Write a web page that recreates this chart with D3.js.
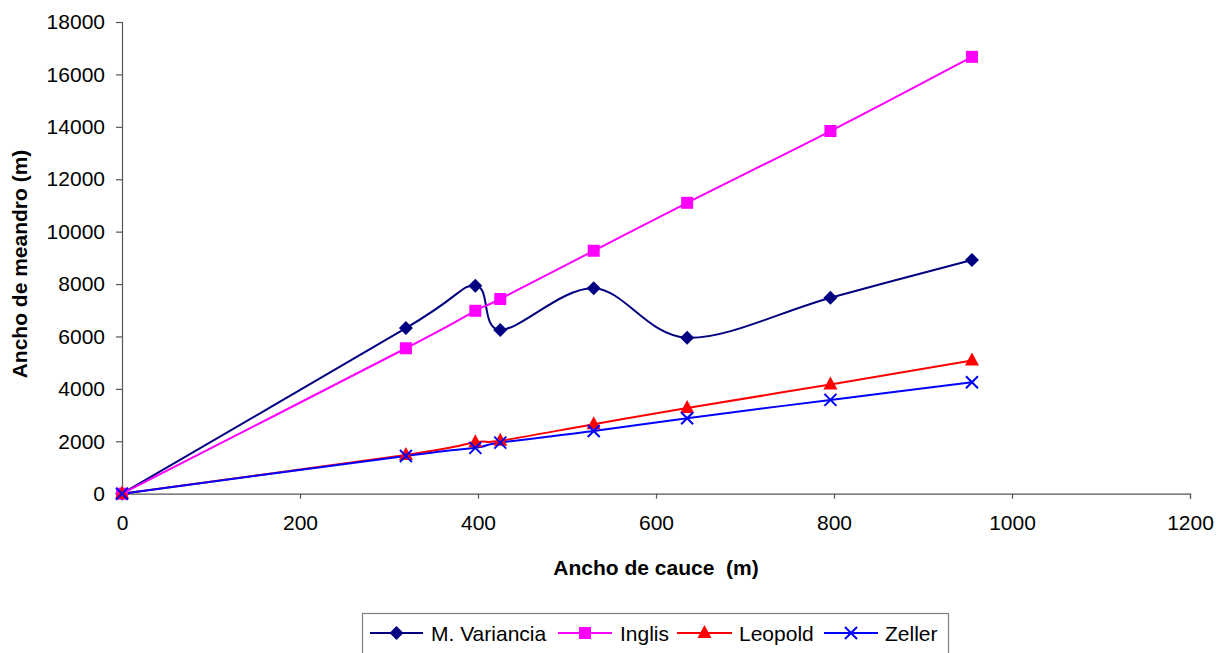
<!DOCTYPE html>
<html>
<head>
<meta charset="utf-8">
<script src="https://cdn.jsdelivr.net/npm/d3@7"></script>
<style>
  html, body { margin: 0; padding: 0; background: #fff; }
  svg text { font-family: Arial, "Liberation Sans", sans-serif; fill: #000; }
</style>
</head>
<body>
<svg id="chart" width="1228" height="653"></svg>
<script>
// Channel width (m) at each computed station
const anchoCauce = [0, 319, 397, 425, 530, 635, 796, 955];

// Meander width (m) per method
const mVariancia = [0, 6320, 7940, 6250, 7840, 5950, 7480, 8920];
const inglis     = [0, 5550, 6980, 7430, 9270, 11100, 13840, 16670];
const leopold    = [0, 1480, 1960, 2020, 2650, 3270, 4170, 5080];
const zeller     = [0, 1440, 1750, 1950, 2390, 2880, 3580, 4250];

const xTicks = [0, 200, 400, 600, 800, 1000, 1200];
const yTicks = [0, 2000, 4000, 6000, 8000, 10000, 12000, 14000, 16000, 18000];

const seriesNames = ["M. Variancia", "Inglis", "Leopold", "Zeller"];
const seriesValues = [mVariancia, inglis, leopold, zeller];
const seriesColors = ["#000080", "#FF00FF", "#FF0000", "#0000FF"];
const seriesMarkers = ["diamond", "square", "triangle", "cross"];

const svg = d3.select("#chart");
const plot = { left: 122, right: 1190, top: 22, bottom: 493.7 };

const x = d3.scaleLinear().domain([0, 1200]).range([plot.left, plot.right]);
const y = d3.scaleLinear().domain([0, 18000]).range([plot.bottom, plot.top]);

const axisColor = "#555";

// Y axis
const yAxis = svg.append("g")
  .attr("transform", `translate(${plot.left},0)`)
  .call(d3.axisLeft(y).tickValues(yTicks).tickSize(6).tickPadding(11).tickFormat(d3.format("d")));
// X axis
const xAxis = svg.append("g")
  .attr("transform", `translate(0,${plot.bottom})`)
  .call(d3.axisBottom(x).tickValues(xTicks).tickSize(5).tickPadding(16).tickFormat(d3.format("d")));

[yAxis, xAxis].forEach(g => {
  g.select(".domain").attr("stroke", axisColor).attr("stroke-width", 1.2);
  g.selectAll(".tick line").attr("stroke", axisColor).attr("stroke-width", 1.2);
  g.selectAll(".tick text").style("font-size", "21px").attr("fill", "#000")
    .style("font-family", "Arial, 'Liberation Sans', sans-serif");
});

// Axis titles
svg.append("text")
  .attr("x", 656).attr("y", 575)
  .attr("text-anchor", "middle")
  .style("font-size", "21px").style("font-weight", "bold")
  .style("white-space", "pre")
  .text("Ancho de cauce  (m)");

svg.append("text")
  .attr("transform", "translate(27,264) rotate(-90)")
  .attr("text-anchor", "middle")
  .style("font-size", "21px").style("font-weight", "bold")
  .text("Ancho de meandro (m)");

// Marker drawing
function drawMarker(g, type, color, cx, cy) {
  if (type === "diamond") {
    g.append("path")
      .attr("d", `M${cx},${cy - 7}L${cx + 7},${cy}L${cx},${cy + 7}L${cx - 7},${cy}Z`)
      .attr("fill", color);
  } else if (type === "square") {
    g.append("rect")
      .attr("x", cx - 6).attr("y", cy - 6).attr("width", 12).attr("height", 12)
      .attr("fill", color);
  } else if (type === "triangle") {
    g.append("path")
      .attr("d", `M${cx},${cy - 8}L${cx + 7},${cy + 5}L${cx - 7},${cy + 5}Z`)
      .attr("fill", color);
  } else if (type === "cross") {
    g.append("path")
      .attr("d", `M${cx - 6},${cy - 6}L${cx + 6},${cy + 6}M${cx - 6},${cy + 6}L${cx + 6},${cy - 6}`)
      .attr("stroke", color).attr("stroke-width", 2).attr("fill", "none");
  }
}

const line = d3.line()
  .x(d => x(d[0]))
  .y(d => y(d[1]))
  .curve(d3.curveCatmullRom.alpha(0));

const seriesG = svg.append("g");
seriesValues.forEach((vals, i) => {
  const pts = anchoCauce.map((w, k) => [w, vals[k]]);
  seriesG.append("path")
    .datum(pts)
    .attr("d", line)
    .attr("fill", "none")
    .attr("stroke", seriesColors[i])
    .attr("stroke-width", 2);
});
seriesValues.forEach((vals, i) => {
  const g = seriesG.append("g");
  anchoCauce.forEach((w, k) => drawMarker(g, seriesMarkers[i], seriesColors[i], x(w), y(vals[k])));
});

// Legend
const legend = svg.append("g");
legend.append("rect")
  .attr("x", 362.5).attr("y", 613.5).attr("width", 586).attr("height", 60)
  .attr("fill", "#fff").attr("stroke", "#808080").attr("stroke-width", 1.2);

const legendItems = [
  { x1: 370, x2: 423, text: 431 },
  { x1: 558, x2: 612, text: 620 },
  { x1: 677, x2: 732, text: 739 },
  { x1: 824, x2: 878, text: 885 }
];
const ly = 633;
legendItems.forEach((it, i) => {
  legend.append("line")
    .attr("x1", it.x1).attr("x2", it.x2).attr("y1", ly).attr("y2", ly)
    .attr("stroke", seriesColors[i]).attr("stroke-width", 2);
  drawMarker(legend, seriesMarkers[i], seriesColors[i], (it.x1 + it.x2) / 2, ly);
  legend.append("text")
    .attr("x", it.text).attr("y", ly + 7.5)
    .style("font-size", "21px")
    .text(seriesNames[i]);
});
</script>
</body>
</html>
